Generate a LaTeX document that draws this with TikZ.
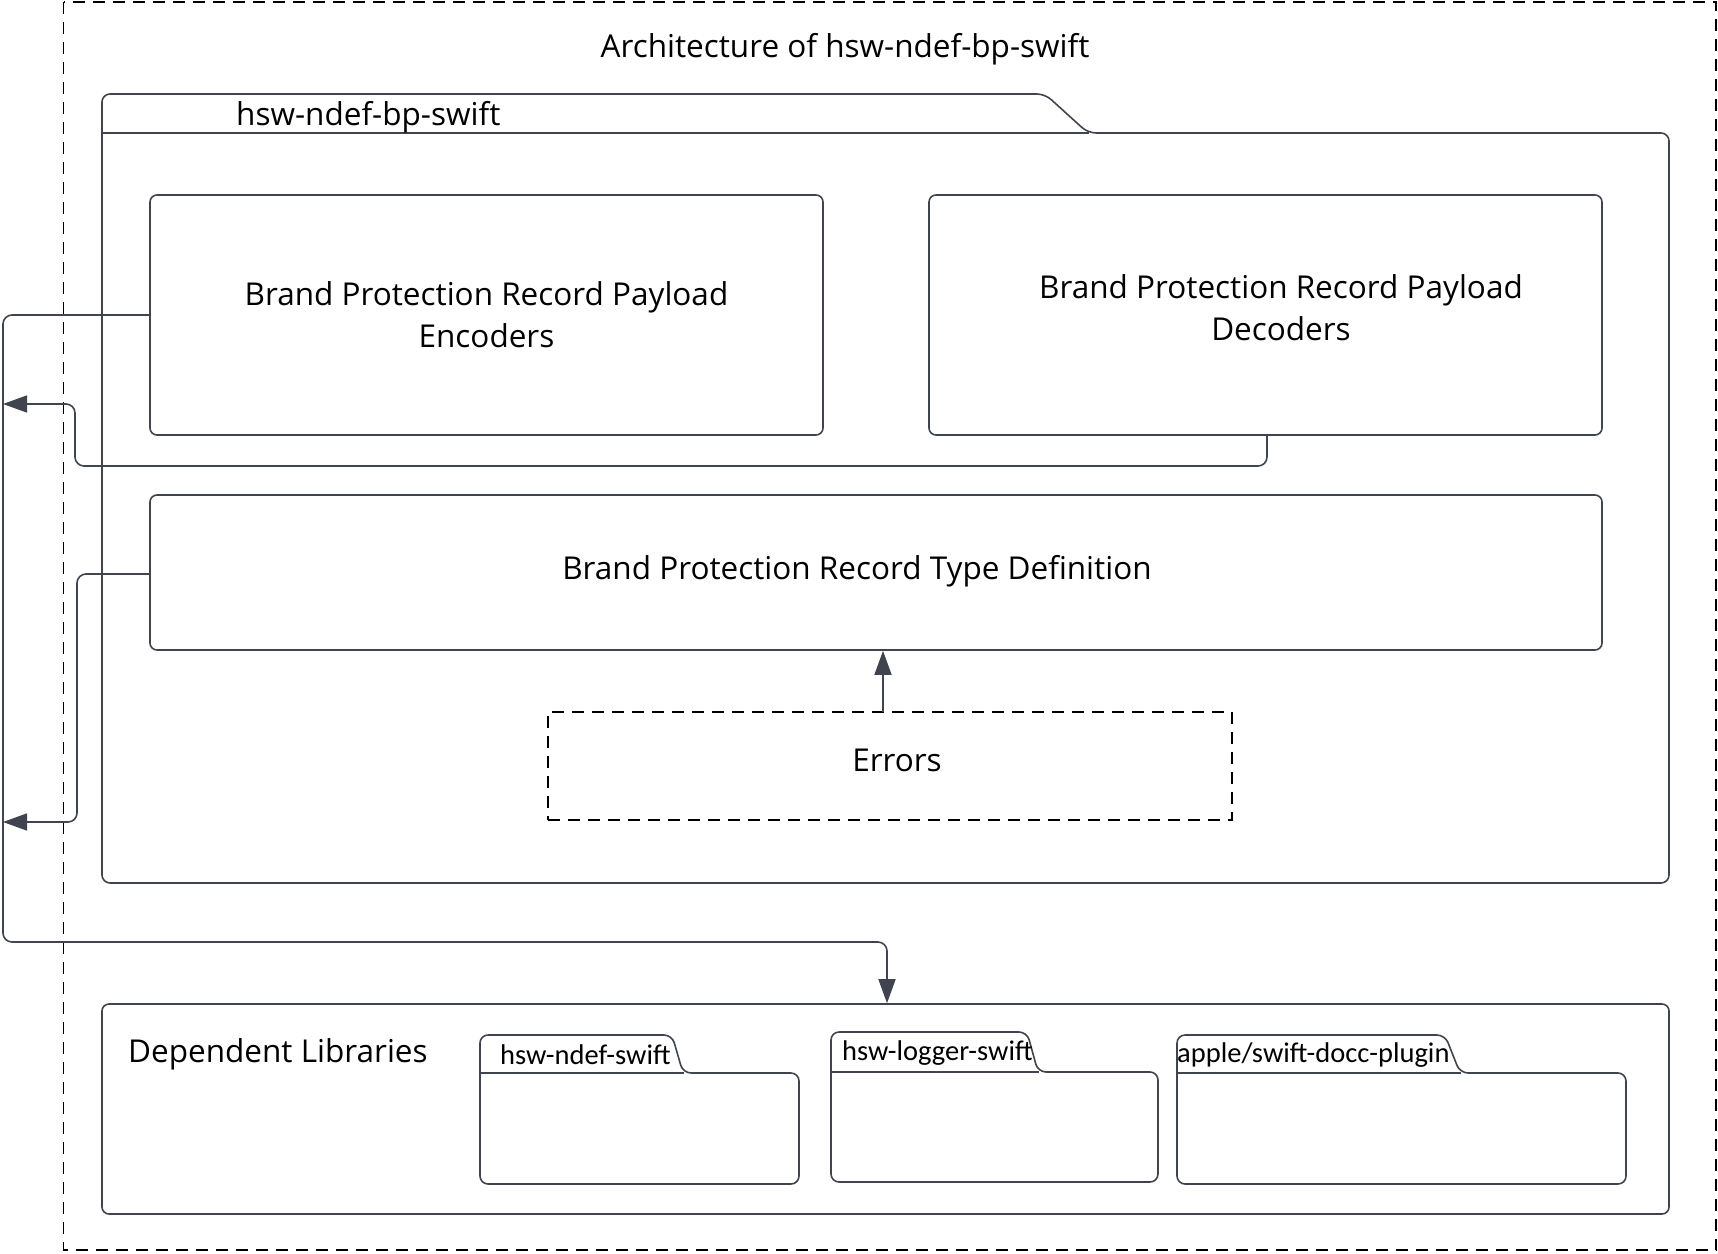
\documentclass[tikz,border=0pt]{standalone}
\usepackage{fontspec}
\setmainfont{Open Sans}
\newfontfamily\libfont{Carlito}
\usetikzlibrary{arrows.meta}
\definecolor{ln}{HTML}{3F444E}
\begin{document}
\begin{tikzpicture}[x=1pt,y=-1pt,
  box/.style={draw=ln, line width=1.6pt, rounded corners=7pt, inner sep=0pt, align=center,
    font=\fontsize{31.5}{42}\selectfont},
  pkg/.style={draw=ln, line width=1.6pt, rounded corners=8pt},
  conn/.style={draw=ln, line width=1.6pt, rounded corners=9pt},
  tip/.style={-{Triangle[length=24pt,width=17pt]}},
  frame/.style={draw=black, line width=1.5pt, dash pattern=on 12pt off 8pt},
  lbl/.style={inner sep=0pt, align=center, font=\fontsize{31.5}{42}\selectfont},
  lib/.style={inner sep=0pt, anchor=west, font=\libfont\fontsize{28.5}{32}\selectfont}
]
\useasboundingbox (0,0) rectangle (1718,1253);
% outer frame
\draw[frame] (63.5,2) rectangle (1716,1250);
\node[lbl] (title) at (845,49) {Architecture of hsw-ndef-bp-swift};

% package
\draw[pkg] (102,883) -- (102,94) -- (1045,94) -- (1088,133) -- (1669,133) -- (1669,883) -- cycle;
\draw[draw=ln, line width=1.6pt] (102,133) -- (1089,133);
\node[lbl, anchor=west] (pkgname) at (236,117) {hsw-ndef-bp-swift};

% boxes
\node[box, minimum width=673pt, minimum height=240pt] (enc) at (486.5,315) {Brand Protection Record Payload\\Encoders};
\node[box, minimum width=673pt, minimum height=240pt] (dec) at (1265.5,315) {};
\node[lbl] (dectext) at (1281,308) {Brand Protection Record Payload\\Decoders};
\node[box, minimum width=1452pt, minimum height=155pt] (typ) at (876,572.5) {};
\node[lbl] (typtext) at (857,571) {Brand Protection Record Type Definition};
\node[box, frame, rounded corners=0pt, minimum width=684pt, minimum height=108pt] (err) at (890,766) {};
\node[lbl] (errtext) at (897,760) {Errors};

% dependent libraries
\node[box, minimum width=1567pt, minimum height=210pt] (dep) at (885.5,1109) {};
\node[lbl, anchor=west] (deplbl) at (128,1054) {Dependent Libraries};

\draw[pkg] (480,1184) -- (480,1035) -- (672,1035) -- (683,1073) -- (799,1073) -- (799,1184) -- cycle;
\draw[draw=ln, line width=1.6pt] (480,1073) -- (684,1073);
\node[lib] (l1) at (500,1055) {hsw-ndef-swift};

\draw[pkg] (831,1182) -- (831,1032) -- (1027,1032) -- (1038,1072) -- (1158,1072) -- (1158,1182) -- cycle;
\draw[draw=ln, line width=1.6pt] (831,1072) -- (1039,1072);
\node[lib] (l2) at (842,1053) {hsw-logger-swift};

\draw[pkg] (1177,1184) -- (1177,1035) -- (1445,1035) -- (1460,1073) -- (1626,1073) -- (1626,1184) -- cycle;
\draw[draw=ln, line width=1.6pt] (1177,1073) -- (1461,1073);
\node[lib] (l3) at (1177,1055) {apple/swift-docc-plugin};

% connectors
\coordinate (b1) at (3,315);
\coordinate (b2) at (3,942);
\coordinate (b3) at (887,942);
\draw[conn, tip] (enc.west) -- (b1) -- (b2) -- (b3) -- (b3 |- dep.north);

\coordinate (d1) at (1267,466);
\coordinate (d2) at (75,466);
\coordinate (d3) at (75,404);
\coordinate (a1) at (3,404);
\draw[conn, tip] (dec.south -| d1) -- (d1) -- (d2) -- (d3) -- (a1);

\coordinate (t1) at (77,574);
\coordinate (t2) at (77,822);
\coordinate (a2) at (3,822);
\draw[conn, tip] (typ.west |- t1) -- (t1) -- (t2) -- (a2);

\coordinate (e1) at (883,712);
\draw[conn, tip] (e1) -- (e1 |- typ.south);
\end{tikzpicture}
\end{document}
